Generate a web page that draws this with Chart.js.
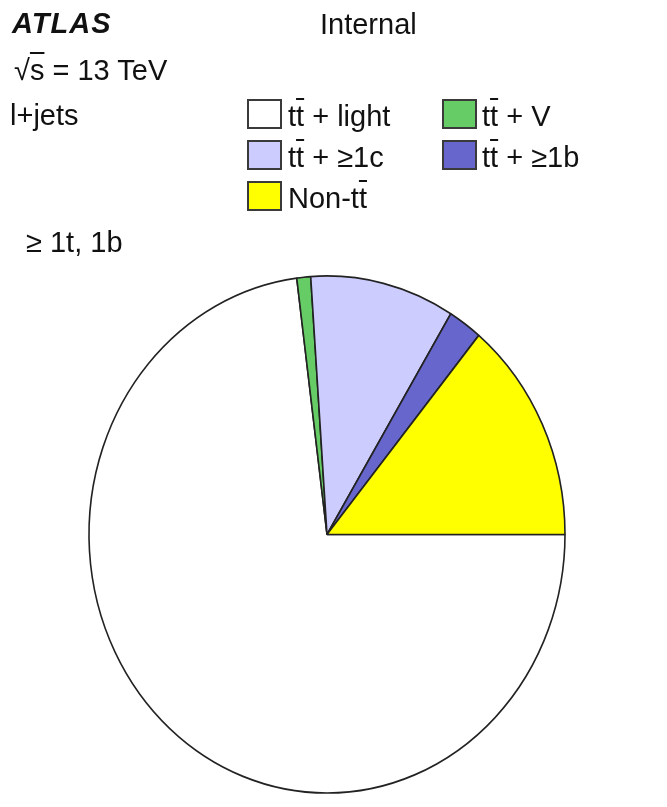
<!DOCTYPE html>
<html><head><meta charset="utf-8">
<script src="https://cdn.jsdelivr.net/npm/chart.js@4.4.0/dist/chart.umd.min.js"></script>
<style>
html,body{margin:0;padding:0;background:#fff;}
#wrap{position:relative;width:667px;height:807px;overflow:hidden;background:#fff;}
canvas{position:absolute;left:0;top:0;}
.t{position:absolute;font-family:'Liberation Sans',Arial,Helvetica,sans-serif;font-size:29px;line-height:29px;color:#111;white-space:nowrap;}
.ov{text-decoration:overline;text-decoration-thickness:2px;}
.box{position:absolute;width:35px;height:30px;box-sizing:border-box;border:2px solid #3a3a3a;}
</style></head><body>
<div id="wrap"><canvas id="c" width="667" height="807"></canvas></div>
<script>
// ---- data ----
const categories = ['tt\u0304 + light', 'tt\u0304 + V', 'tt\u0304 + \u22651c', 'tt\u0304 + \u22651b', 'Non-tt\u0304'];
const fractions  = [73.0, 0.94, 9.8, 2.3, 14.0];   // percent of events
const sliceColors = ['#ffffff', '#66cc66', '#ccccff', '#6666cc', '#ffff00'];
const atlasLabel = 'ATLAS';
const statusLabel = 'Internal';
const energyLabel = '\u221As = 13 TeV';
const channelLabel = 'l+jets';
const regionLabel = '\u2265 1t, 1b';

// ---- helpers ----
function toHtml(s){
  return s.replace(/t\u0304/g,'<span class="ov">t</span>')
          .replace('\u221As','\u221A<span class="ov">s</span>');
}
const wrap = document.getElementById('wrap');
function addText(txt, x, baseline, extra){
  const d = document.createElement('div');
  d.className = 't';
  d.style.left = x + 'px';
  d.style.top = (baseline - 24.5) + 'px';
  if (extra) d.style.cssText += extra;
  d.innerHTML = toHtml(txt);
  wrap.appendChild(d);
}

// ---- chart ----
const yStretch = 258.5 / 238;
const ellipsePlugin = {
  id: 'ellipse',
  beforeDatasetsDraw(chart){
    const a = chart.getDatasetMeta(0).data[0];
    const ctx = chart.ctx;
    ctx.save();
    ctx.translate(a.x, a.y);
    ctx.scale(1, yStretch);
    ctx.translate(-a.x, -a.y);
  },
  afterDatasetsDraw(chart){ chart.ctx.restore(); }
};

const chart = new Chart(document.getElementById('c'), {
  type: 'pie',
  data: {
    labels: categories,
    datasets: [{
      data: fractions,
      backgroundColor: sliceColors,
      borderColor: '#222222',
      borderWidth: 1.6,
      clip: false
    }]
  },
  options: {
    responsive: false,
    devicePixelRatio: 1,
    animation: false,
    rotation: 90,
    radius: 238,
    layout: { padding: { left: 0, right: 13, top: 262, bottom: 0 } },
    plugins: { legend: { display: false }, tooltip: { enabled: false } }
  },
  plugins: [ellipsePlugin]
});

// ---- labels ----
addText(atlasLabel, 12, 33, 'font-weight:bold;font-style:italic;letter-spacing:1px;');
addText(statusLabel, 320, 34);
addText(energyLabel, 14, 80);
addText(channelLabel, 10, 125);
addText(regionLabel, 26, 252);

// ---- legend (from chart data) ----
const ds = chart.data.datasets[0];
chart.data.labels.forEach((lab, i) => {
  const col = i % 2, row = Math.floor(i / 2);
  const bx = col === 0 ? 247 : 442;
  const tx = col === 0 ? 288 : 482;
  const by = 99 + row * 41;
  const b = document.createElement('div');
  b.className = 'box';
  b.style.left = bx + 'px';
  b.style.top = by + 'px';
  b.style.background = ds.backgroundColor[i];
  wrap.appendChild(b);
  addText(lab, tx, by + 27);
});
</script>
</body></html>
